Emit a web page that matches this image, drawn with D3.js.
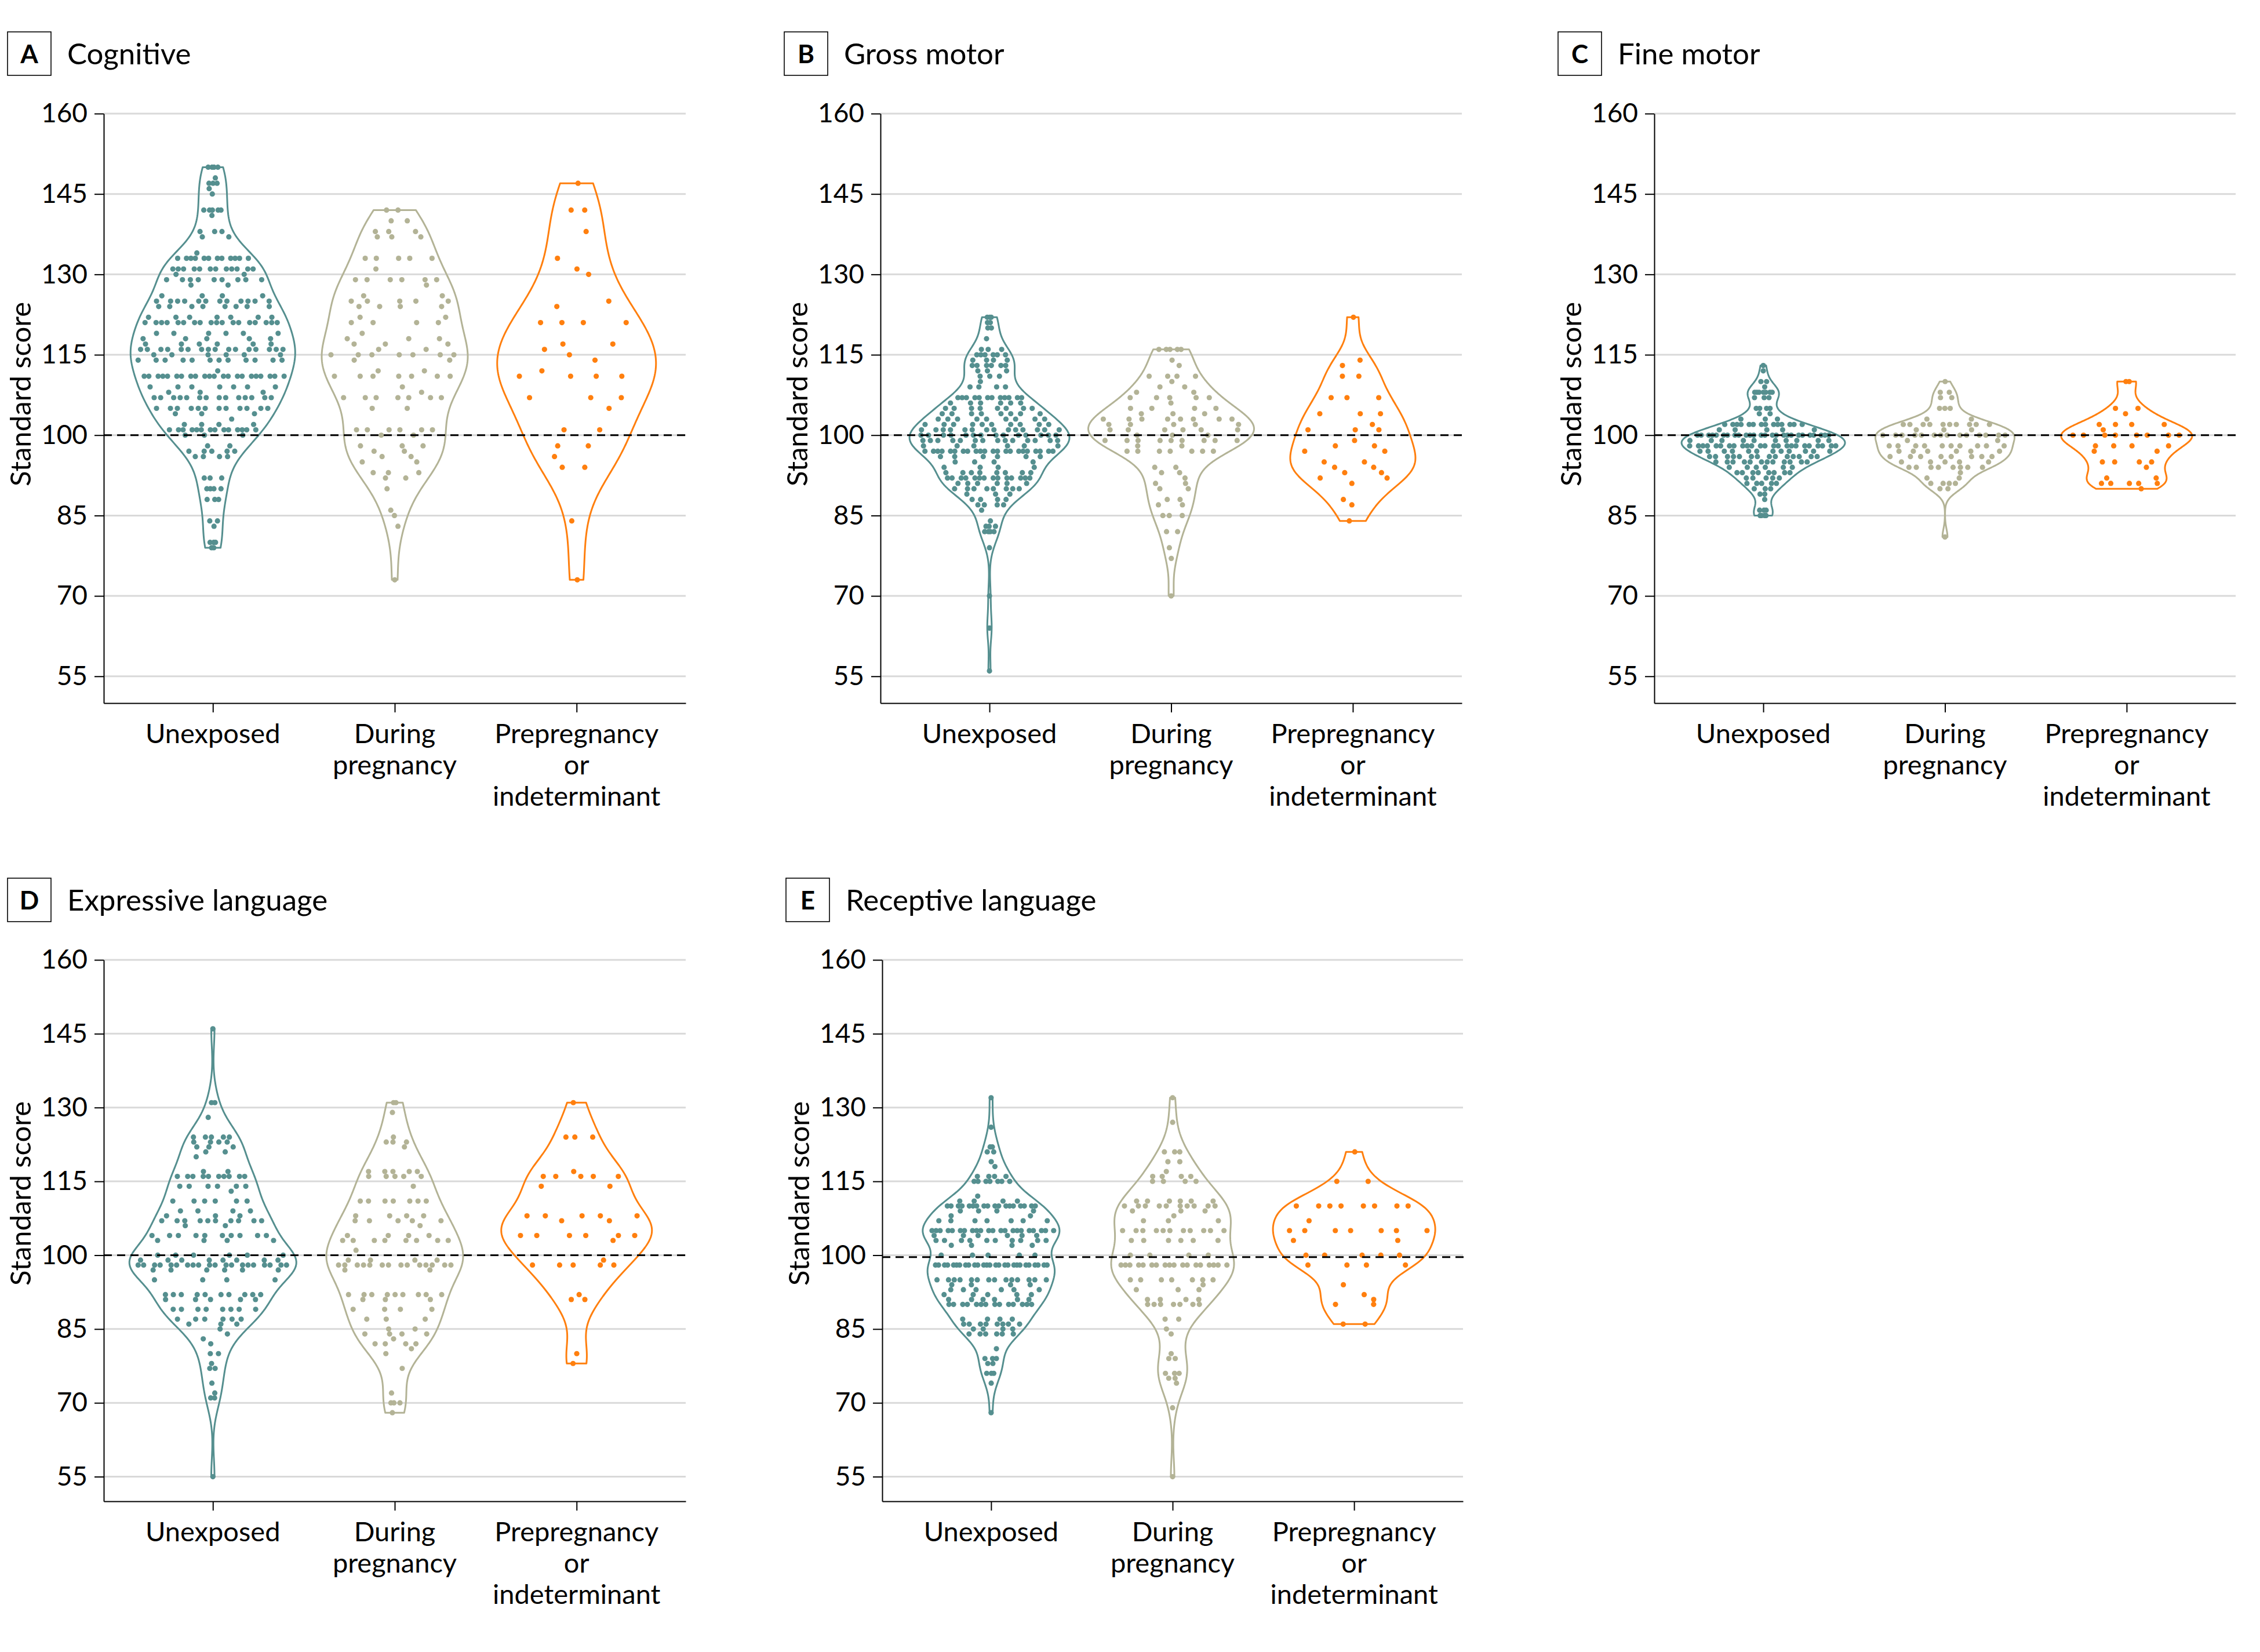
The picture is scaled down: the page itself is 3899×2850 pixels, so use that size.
<!DOCTYPE html>
<html><head><meta charset="utf-8">
<script src="https://cdn.jsdelivr.net/npm/d3@7"></script>
<style>html,body{margin:0;padding:0;background:#fff}</style>
</head><body>
<svg id="chart" width="3899" height="2850" xmlns="http://www.w3.org/2000/svg"></svg>
<script>
// ---------------- DATA ----------------
const categories = ["Unexposed", "During pregnancy", "Prepregnancy or indeterminant"];
const categoryLines = [["Unexposed"], ["During", "pregnancy"], ["Prepregnancy", "or", "indeterminant"]];
const panelLetters = ["A", "B", "C", "D", "E"];
const panelTitles = ["Cognitive", "Gross motor", "Fine motor", "Expressive language", "Receptive language"];
const yTickValues = [55, 70, 85, 100, 115, 130, 145, 160];
const yDomain = [50, 160];
const referenceLines = [100, 100, 100, 100, 99.6];

// [standard score, number of children]
const cogUnexposed = [[150,4],[148,1],[147,3],[146,1],[145,1],[142,5],[141,1],[138,3],[137,2],[134,1],[133,12],[131,12],[130,2],[129,9],[128,2],[126,4],[125,12],[124,8],[122,7],[121,18],[119,6],[118,5],[117,6],[116,16],[115,6],[114,12],[112,1],[111,22],[109,7],[108,3],[107,14],[105,12],[104,3],[103,1],[102,4],[101,14],[100,3],[98,2],[97,5],[96,4],[92,3],[90,4],[88,3],[84,2],[83,1],[80,3],[79,2]];
const cogDuring = [[142,2],[140,2],[138,3],[137,3],[133,5],[131,1],[129,6],[128,1],[126,2],[125,5],[124,4],[122,2],[121,4],[119,1],[118,3],[117,3],[116,2],[115,7],[114,2],[112,2],[111,7],[109,1],[108,1],[107,7],[105,2],[101,6],[100,2],[98,3],[97,2],[96,2],[95,2],[93,3],[92,2],[90,1],[86,1],[85,1],[83,1],[73,1]];
const cogPre = [[147,1],[142,2],[138,1],[133,1],[131,1],[130,1],[125,1],[124,1],[121,4],[117,2],[116,1],[115,1],[114,1],[112,1],[111,4],[107,3],[105,1],[101,2],[98,2],[96,1],[94,2],[84,1],[73,1]];

const grossUnexposed = [[122,3],[121,2],[120,2],[118,1],[116,3],[115,6],[114,4],[113,6],[112,3],[111,3],[110,1],[109,4],[107,12],[106,6],[105,8],[104,8],[103,9],[102,10],[101,14],[100,14],[99,14],[98,6],[97,22],[96,6],[95,4],[94,4],[93,8],[92,14],[91,6],[90,8],[89,3],[88,4],[87,4],[86,1],[84,1],[83,3],[82,4],[79,1],[70,1],[64,2],[56,1]];
const grossDuring = [[116,5],[114,1],[113,1],[111,4],[110,1],[109,2],[108,2],[107,5],[106,1],[105,4],[104,3],[103,8],[102,5],[101,6],[100,3],[99,9],[98,2],[97,7],[94,2],[93,2],[92,1],[91,2],[90,2],[88,2],[87,2],[85,3],[82,2],[79,1],[77,1],[70,1]];
const grossPre = [[122,1],[114,1],[113,1],[111,2],[107,3],[104,3],[102,1],[101,3],[99,1],[98,2],[97,2],[95,2],[94,2],[93,2],[92,2],[91,1],[88,1],[87,1],[84,1]];

const fineUnexposed = [[113,1],[112,1],[110,2],[109,1],[108,7],[107,3],[105,4],[104,2],[103,3],[102,14],[101,5],[100,26],[99,10],[98,24],[97,12],[96,14],[95,12],[94,6],[93,8],[92,5],[91,5],[90,3],[89,2],[88,1],[86,3],[85,4]];
const fineDuring = [[110,1],[108,2],[107,2],[105,3],[103,2],[102,10],[101,3],[100,14],[99,2],[98,10],[97,6],[96,8],[95,5],[94,8],[93,1],[92,2],[91,4],[90,2],[81,1]];
const finePre = [[110,2],[105,2],[104,1],[102,4],[101,1],[100,8],[98,4],[97,2],[95,4],[94,1],[92,2],[91,5],[90,1]];

const exprUnexposed = [[146,1],[131,2],[128,1],[124,5],[123,4],[122,3],[121,2],[120,1],[117,2],[116,10],[114,6],[113,1],[111,6],[109,4],[108,3],[107,10],[106,2],[104,10],[103,4],[100,6],[99,8],[98,20],[97,6],[95,4],[92,10],[91,5],[89,8],[87,6],[86,3],[85,1],[84,1],[83,1],[82,1],[80,2],[78,1],[77,2],[74,1],[72,1],[71,2],[55,1]];
const exprDuring = [[131,2],[129,1],[124,1],[123,3],[122,1],[117,5],[116,5],[114,1],[111,7],[108,4],[107,5],[106,1],[104,4],[103,8],[101,1],[99,4],[98,14],[97,2],[92,9],[91,3],[89,4],[87,3],[85,2],[84,4],[83,1],[82,4],[81,1],[80,1],[77,1],[72,1],[70,3],[68,1]];
const exprPre = [[131,1],[124,3],[117,1],[116,5],[114,2],[108,5],[107,2],[104,6],[103,1],[99,1],[98,5],[92,1],[91,2],[80,1],[78,1]];

const recUnexposed = [[132,1],[126,1],[122,2],[121,2],[119,1],[118,1],[116,4],[115,7],[112,1],[111,4],[110,18],[109,4],[108,2],[107,7],[105,22],[104,6],[103,10],[102,4],[100,5],[98,27],[95,14],[94,4],[93,6],[92,5],[91,6],[90,14],[87,4],[86,8],[85,4],[84,6],[81,1],[79,3],[78,2],[76,3],[74,1],[68,1]];
const recDuring = [[132,1],[127,1],[121,3],[119,2],[117,1],[116,4],[115,4],[111,6],[110,10],[109,3],[108,1],[107,3],[105,11],[103,6],[100,4],[98,18],[95,7],[94,1],[93,3],[91,4],[90,7],[87,2],[85,1],[84,1],[80,1],[79,2],[76,3],[75,2],[74,1],[69,1],[55,1]];
const recPre = [[121,1],[115,2],[110,8],[107,1],[105,7],[103,2],[100,5],[98,4],[94,1],[92,1],[91,1],[90,2],[86,2]];

const panelData = [
  [cogUnexposed, cogDuring, cogPre],
  [grossUnexposed, grossDuring, grossPre],
  [fineUnexposed, fineDuring, finePre],
  [exprUnexposed, exprDuring, exprPre],
  [recUnexposed, recDuring, recPre]
];

// ---------------- STYLE / LAYOUT ----------------
const colors = ["#558f8f", "#b3b396", "#ff7f0e"];
const layout = [
  {left: 179,  right: 1183, top: 196,  bottom: 1213, titleY: 680},
  {left: 1519, right: 2522, top: 196,  bottom: 1213, titleY: 680},
  {left: 2854, right: 3857, top: 196,  bottom: 1213, titleY: 680},
  {left: 179,  right: 1183, top: 1656, bottom: 2590, titleY: 2059},
  {left: 1522, right: 2524, top: 1656, bottom: 2590, titleY: 2059}
];
const violinHalfWidth = [[142,126,137],[138,143,108],[141,120,113],[144,118,130],[118,106,140]];
const bandwidthAdjust = 0.78;
const FONT = "Lato, 'Open Sans', 'DejaVu Sans', sans-serif";

const svg = d3.select("#chart");
svg.append("rect").attr("width", 3899).attr("height", 2850).attr("fill", "#fff");

function expand(pairs) {
  const out = [];
  pairs.forEach(([v, c]) => { for (let i = 0; i < c; i++) out.push(v); });
  return out;
}
function kde(values, bw) {
  return y => {
    let s = 0;
    for (const v of values) { const z = (y - v) / bw; s += Math.exp(-0.5 * z * z); }
    return s / (values.length * bw * Math.sqrt(2 * Math.PI));
  };
}
const frac = x => x - Math.floor(x);

panelData.forEach((groups, pi) => {
  const L = layout[pi];
  const g = svg.append("g");
  const y = d3.scaleLinear().domain(yDomain).range([L.bottom, L.top]);
  const x = d3.scalePoint().domain(categories).range([L.left, L.right]).padding(0.6);

  // gridlines
  g.append("g").selectAll("line").data(yTickValues).join("line")
    .attr("x1", L.left).attr("x2", L.right)
    .attr("y1", d => y(d)).attr("y2", d => y(d))
    .attr("stroke", "#d9d9d9").attr("stroke-width", 3);

  // axes
  const yAxis = g.append("g").attr("transform", `translate(${L.left},0)`)
    .call(d3.axisLeft(y).tickValues(yTickValues).tickSize(16).tickPadding(12).tickSizeOuter(0));
  const xAxis = g.append("g").attr("transform", `translate(0,${L.bottom})`)
    .call(d3.axisBottom(x).tickSize(16).tickSizeOuter(0).tickFormat(""));
  [yAxis, xAxis].forEach(a => {
    a.select(".domain").attr("stroke", "#000").attr("stroke-width", 2);
    a.selectAll(".tick line").attr("stroke", "#000").attr("stroke-width", 2);
  });
  yAxis.selectAll(".tick text").attr("font-family", FONT).attr("font-size", 46).attr("fill", "#000");

  // category labels
  categories.forEach((c, ci) => {
    const t = g.append("text").attr("text-anchor", "middle")
      .attr("font-family", FONT).attr("font-size", 47).attr("fill", "#000");
    categoryLines[ci].forEach((line, li) => {
      t.append("tspan").attr("x", x(c)).attr("y", L.bottom + 69 + li * 54).text(line);
    });
  });

  // y-axis title
  g.append("text").attr("transform", `translate(${L.left - 126},${L.titleY}) rotate(-90)`)
    .attr("text-anchor", "middle").attr("font-family", FONT).attr("font-size", 49)
    .attr("fill", "#000").text("Standard score");

  // panel label
  const bx = L.left - 166, by = L.top - 141;
  g.append("rect").attr("x", bx).attr("y", by).attr("width", 75).attr("height", 75)
    .attr("fill", "none").attr("stroke", "#000").attr("stroke-width", 1.6);
  g.append("text").attr("x", bx + 37.5).attr("y", by + 54).attr("text-anchor", "middle")
    .attr("font-family", FONT).attr("font-weight", "bold").attr("font-size", 44)
    .attr("fill", "#000").text(panelLetters[pi]);
  g.append("text").attr("x", bx + 103).attr("y", by + 56)
    .attr("font-family", FONT).attr("font-size", 51).attr("fill", "#000").text(panelTitles[pi]);

  // violins + points
  groups.forEach((pairs, gi) => {
    const vals = expand(pairs);
    const n = vals.length;
    const sd = d3.deviation(vals);
    const bw = bandwidthAdjust * sd * Math.pow(n, -0.2);
    const f = kde(vals, bw);
    const [mn, mx] = d3.extent(vals);
    const grid = d3.range(0, 201).map(i => mn + (mx - mn) * i / 200);
    const dens = grid.map(f);
    const dmax = d3.max(dens);
    const maxHW = violinHalfWidth[pi][gi];
    const hw = v => f(v) / dmax * maxHW;
    const cx = x(categories[gi]);
    const pts = grid.map((v, i) => [cx + dens[i] / dmax * maxHW, y(v)])
      .concat(grid.slice().reverse().map((v, i) => [cx - dens[200 - i] / dmax * maxHW, y(v)]));
    g.append("path").attr("d", d3.line()(pts) + "Z")
      .attr("fill", "none").attr("stroke", colors[gi]).attr("stroke-width", 3)
      .attr("stroke-linejoin", "round");

    const dots = [];
    pairs.forEach(([v, c]) => {
      const w = Math.max(hw(v) - 8, 0);
      for (let j = 0; j < c; j++) {
        const r = frac(v * 0.7548776662 + j * 0.5698402910 + gi * 0.31 + pi * 0.17);
        const u = (j + 0.15 + 0.7 * r) / c;
        dots.push({v, px: cx + (2 * u - 1) * w});
      }
    });
    g.append("g").selectAll("circle").data(dots).join("circle")
      .attr("cx", d => d.px).attr("cy", d => y(d.v)).attr("r", 4.6)
      .attr("fill", colors[gi]);
  });

  // reference line
  g.append("line").attr("x1", L.left).attr("x2", L.right + 2)
    .attr("y1", y(referenceLines[pi])).attr("y2", y(referenceLines[pi]))
    .attr("stroke", "#000").attr("stroke-width", 3).attr("stroke-dasharray", "14,9");
});
</script>
</body></html>
